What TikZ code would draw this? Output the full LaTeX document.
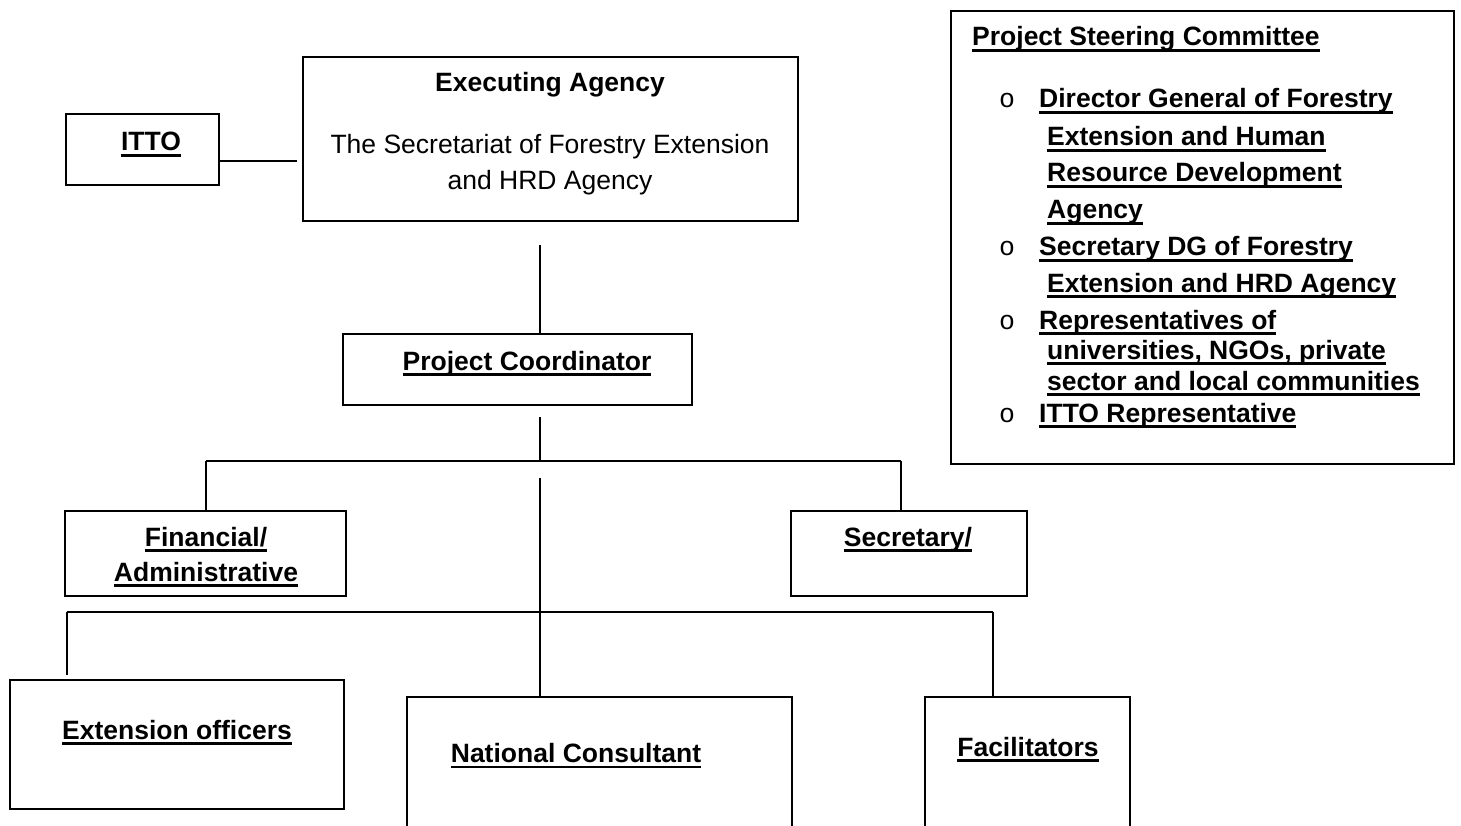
\documentclass[tikz,border=0pt]{standalone}
\usepackage{fontspec}
\setmainfont{Liberation Sans}
\newfontfamily\bulletfont{Liberation Mono}
\newcommand\ulx[1]{\setbox0=\hbox{#1}\rlap{\rule[-0.22em]{\wd0}{0.1em}}\box0}
\begin{document}
\begin{tikzpicture}[x=1pt,y=-1pt,
  boxn/.style={draw, line width=2.5pt, inner sep=0pt, rectangle},
  conn/.style={line width=2pt},
  lbl/.style={anchor=base, inner sep=0pt, font=\fontsize{26.5pt}{32pt}\selectfont},
  lblb/.style={anchor=base, inner sep=0pt, font=\fontsize{26.5pt}{32pt}\selectfont\bfseries},
  lblw/.style={lblb, anchor=base west},
  bul/.style={anchor=base, inner sep=0pt, font=\fontsize{26.5pt}{32pt}\bulletfont}]
\useasboundingbox (0,0) rectangle (1461,826);
\clip (0,0) rectangle (1461,826);
% boxes
\node[boxn, minimum width=153pt, minimum height=71pt] (itto) at (142.5,149.5) {};
\node[boxn, minimum width=495pt, minimum height=164pt] (ea) at (550.5,139) {};
\node[boxn, minimum width=349pt, minimum height=71pt] (pc) at (517.5,369.5) {};
\node[boxn, minimum width=281pt, minimum height=85pt] (fin) at (205.5,553.5) {};
\node[boxn, minimum width=236pt, minimum height=85pt] (sec) at (909,553.5) {};
\node[boxn, minimum width=334pt, minimum height=129pt] (ext) at (177,744.5) {};
\node[boxn, minimum width=385pt, minimum height=143pt] (nc) at (599.5,768.5) {};
\node[boxn, minimum width=205pt, minimum height=130pt] (fac) at (1027.5,762) {};
\node[boxn, minimum width=503pt, minimum height=453pt] (psc) at (1202.5,237.5) {};
% texts
\node[lblb] (tI) at (151,151) {\ulx{ITTO}};
\node[lblb] (tEA) at (550,92) {Executing Agency};
\node[lbl] (tEA2) at (550,154) {The Secretariat of Forestry Extension};
\node[lbl] (tEA3) at (550,189.5) {and HRD Agency};
\node[lblb] (tPC) at (527,370) {\ulx{Project Coordinator}};
\node[lblb] (tF1) at (206,546) {\ulx{Financial/}};
\node[lblb] (tF2) at (206,581) {\ulx{Administrative}};
\node[lblb] (tS) at (908,546) {\ulx{Secretary/}};
\node[lblb] (tE) at (177,739) {\ulx{Extension officers}};
\node[lblb] (tN) at (576,762.5) {\ulx{National Consultant}};
\node[lblb] (tFa) at (1028,756) {\ulx{Facilitators}};
% steering committee
\node[lblw] (p0) at (972,46) {\ulx{Project Steering Committee}};
\node[bul] (b1) at (1007,108) {o};
\node[lblw] (p1) at (1039,108) {\ulx{Director General of Forestry}};
\node[lblw] (p2) at (1047,146) {\ulx{Extension and Human}};
\node[lblw] (p3) at (1047,182) {\ulx{Resource Development}};
\node[lblw] (p4) at (1047,219) {\ulx{Agency}};
\node[bul] (b2) at (1007,256) {o};
\node[lblw] (p5) at (1039,256) {\ulx{Secretary DG of Forestry}};
\node[lblw] (p6) at (1047,292) {\ulx{Extension and HRD Agency}};
\node[bul] (b3) at (1007,329) {o};
\node[lblw] (p7) at (1039,329) {\ulx{Representatives of}};
\node[lblw] (p8) at (1047,359) {\ulx{universities, NGOs, private}};
\node[lblw] (p9) at (1047,390) {\ulx{sector and local communities}};
\node[bul] (b4) at (1007,422) {o};
\node[lblw] (p10) at (1039,422) {\ulx{ITTO Representative}};
% connectors
\coordinate (i1) at (297,161);
\draw[conn] (itto.east |- i1) -- (i1);
\coordinate (a1) at (540,245);
\draw[conn] (a1) -- (a1 |- pc.north);
\coordinate (a2) at (540,417);
\coordinate (h1) at (540,461);
\draw[conn] (a2) -- (h1);
\coordinate (h1l) at (206,461);
\coordinate (h1r) at (901,461);
\draw[conn] (h1l) -- (h1r);
\draw[conn] (h1l) -- (h1l |- fin.north);
\draw[conn] (h1r) -- (h1r |- sec.north);
\coordinate (a3) at (540,478);
\coordinate (h2) at (540,612);
\draw[conn] (a3) -- (h2);
\coordinate (h2l) at (67,612);
\coordinate (h2r) at (993,612);
\draw[conn] (h2l) -- (h2r);
\coordinate (e1) at (67,675);
\draw[conn] (h2l) -- (e1);
\draw[conn] (h2) -- (h2 |- nc.north);
\draw[conn] (h2r) -- (h2r |- fac.north);
\end{tikzpicture}
\end{document}
